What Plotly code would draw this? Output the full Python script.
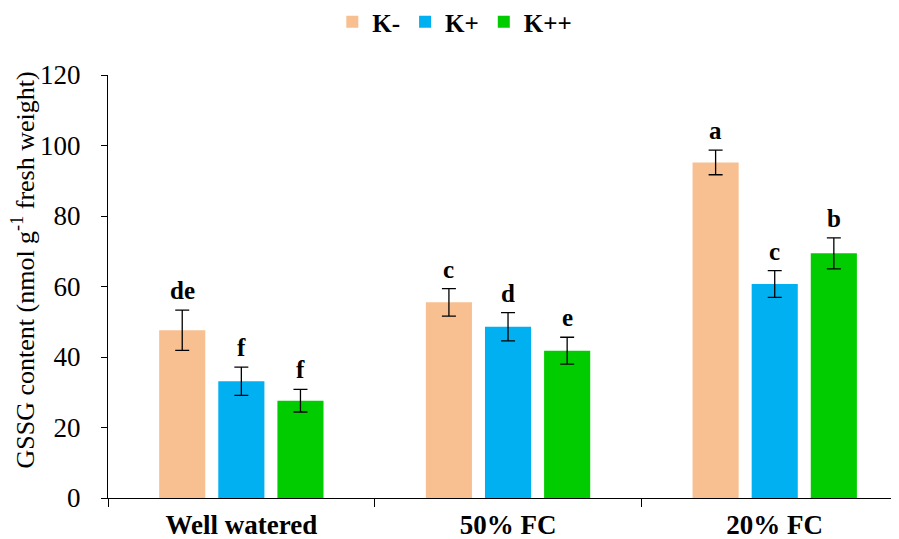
import plotly.graph_objects as go

categories = ["Well watered", "50% FC", "20% FC"]
series_names = ["K-", "K+", "K++"]
k_minus = [47.6, 55.5, 95.2]
k_plus = [33.1, 48.6, 60.7]
k_plusplus = [27.6, 41.8, 69.4]
err_minus = [5.7, 3.9, 3.5]
err_plus = [4.0, 4.0, 3.8]
err_plusplus = [3.2, 3.8, 4.4]
letters_minus = ["de", "c", "a"]
letters_plus = ["f", "d", "c"]
letters_plusplus = ["f", "e", "b"]
colors = ["#F8C090", "#00B0F0", "#00CC00"]
yticks = [0, 20, 40, 60, 80, 100, 120]

values = [k_minus, k_plus, k_plusplus]
errs = [err_minus, err_plus, err_plusplus]
letters = [letters_minus, letters_plus, letters_plusplus]

SERIF = "Liberation Serif"

fig = go.Figure()
for i, name in enumerate(series_names):
    fig.add_trace(go.Bar(
        x=categories, y=values[i], name="<b>%s</b>" % name,
        marker=dict(color=colors[i], line=dict(width=0)),
        error_y=dict(type="data", array=errs[i], visible=True,
                     color="black", thickness=1.3, width=7),
        offsetgroup=str(i),
    ))

# letter annotations
slot = (1 - 0.335) / 3
for i in range(3):
    for j, cat in enumerate(categories):
        fig.add_annotation(
            x=j + (i - 1) * slot, y=values[i][j] + errs[i][j],
            xref="x", yref="y", text="<b>%s</b>" % letters[i][j],
            showarrow=False, yanchor="bottom", yshift=4,
            font=dict(family=SERIF, size=25, color="black"),
        )

# y-axis title
fig.add_annotation(
    x=-84 / 791, xref="paper", xanchor="center", y=0.5, yref="paper", yanchor="middle",
    yshift=16,
    text="GSSG content (nmol g<sup>-1</sup> fresh weight)", textangle=-90,
    showarrow=False, font=dict(family=SERIF, size=26, color="black"),
)

fig.update_layout(
    width=899, height=539,
    margin=dict(l=100, r=8, t=67, b=49, autoexpand=False),
    paper_bgcolor="white", plot_bgcolor="white",
    barmode="group", bargap=0.335, bargroupgap=0.22,
    showlegend=True,
    legend=dict(orientation="h", x=0.497, xref="container", xanchor="center",
                y=0.974, yref="container", yanchor="middle",
                font=dict(family=SERIF, size=25, color="black"),
                itemsizing="constant", itemwidth=30, traceorder="normal"),
    font=dict(family=SERIF, color="black"),
)
fig.update_xaxes(
    type="category", range=[-0.5, 2.466],
    showline=True, linecolor="black", linewidth=1,
    ticks="outside", tickson="boundaries", ticklen=8, tickcolor="black",
    tickfont=dict(family=SERIF, size=27, color="black"),
    tickvals=categories, ticktext=["<b>%s</b>" % c for c in categories],
    ticklabelstandoff=3,
    showgrid=False, zeroline=False, automargin=False,
)
fig.update_yaxes(
    range=[0, 120], tickvals=yticks,
    showline=True, linecolor="black", linewidth=1,
    ticks="outside", ticklen=6, tickcolor="black",
    tickfont=dict(family=SERIF, size=27, color="black"),
    ticklabelstandoff=15,
    showgrid=False, zeroline=False, automargin=False,
)
fig.write_html("out.html")
